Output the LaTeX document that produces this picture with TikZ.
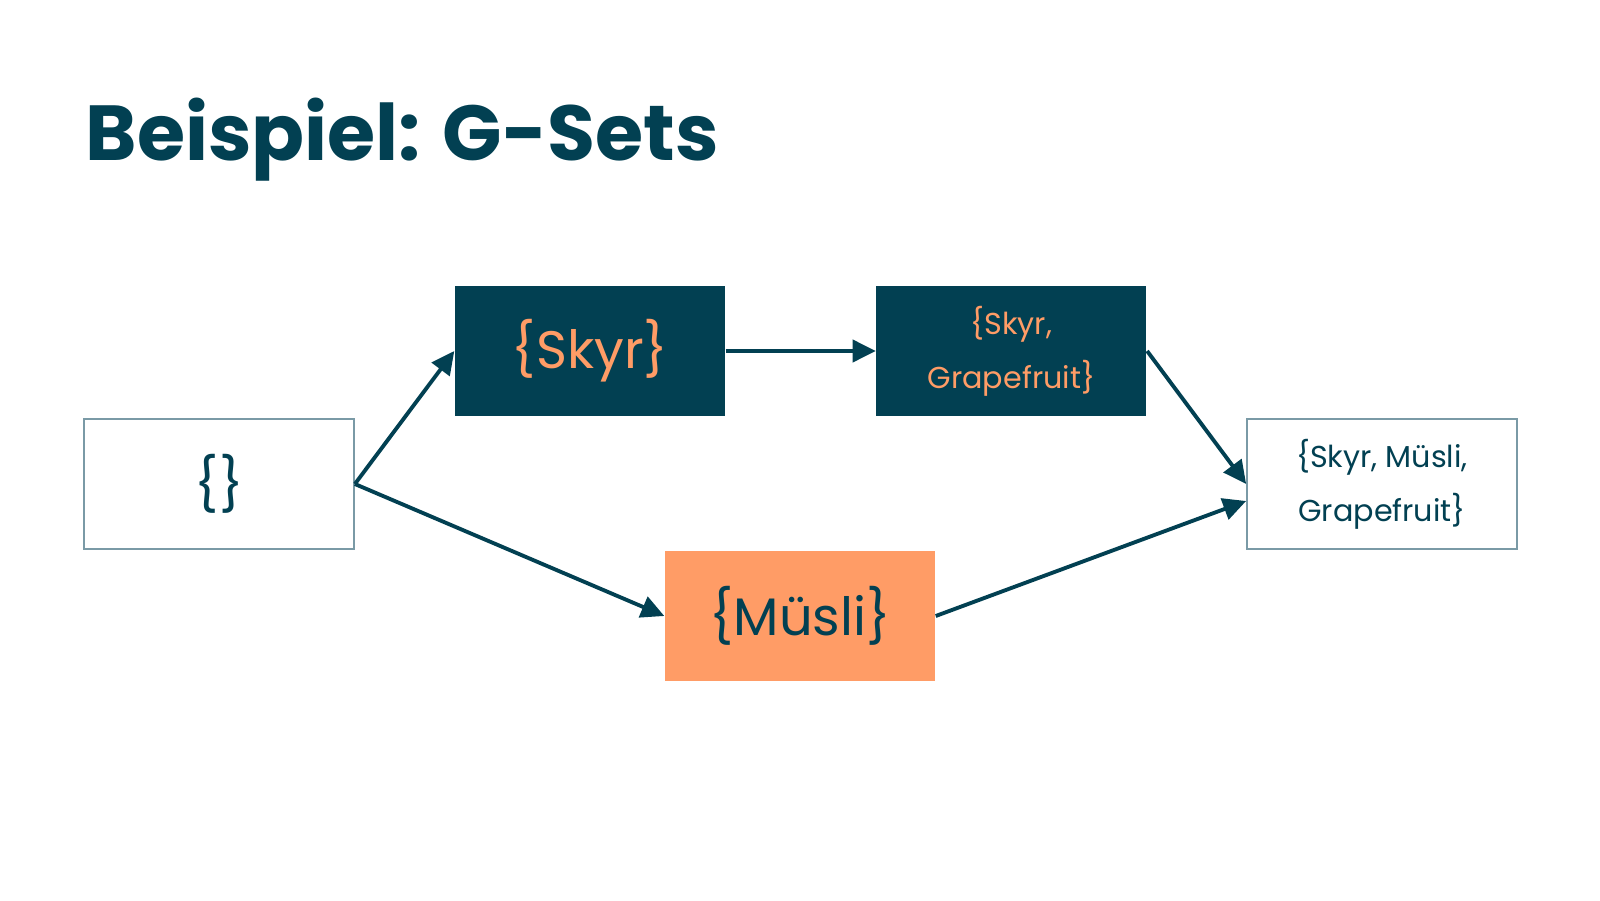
\documentclass[tikz,border=0pt]{standalone}
\usepackage{fontspec}
\setmainfont{Poppins}
\usepackage{tikz}
\usetikzlibrary{positioning, arrows.meta, calc}

\definecolor{teal}{RGB}{2,64,82}
\definecolor{peach}{RGB}{255,156,102}
\definecolor{rim}{RGB}{122,154,166}

\tikzset{
  setbox/.style={minimum width=2.7cm, minimum height=1.3cm, inner sep=0pt, align=center},
  dark/.style={setbox, fill=teal, text=peach},
  light/.style={setbox, draw=rim, line width=0.5pt, fill=white, text=teal},
  warm/.style={setbox, fill=peach, text=teal},
  arr/.style={draw=teal, line width=1.1pt, -{Triangle[length=2.3mm,width=2.2mm]}}
}

\begin{document}
\begin{tikzpicture}
\useasboundingbox (0,0) rectangle (16,9);
\node[anchor=base west, text=teal, font=\fontsize{22.2}{27}\selectfont\bfseries, inner sep=0pt] (title) at (0.85,7.40) {Beispiel: G-Sets};

\node[light, font=\fontsize{15}{18}\selectfont] (empty) at (2.19,4.16) {\{\}};
\node[dark, font=\fontsize{15}{18}\selectfont] (skyr) at (5.90,5.49) {\{Skyr\}};
\node[dark, right=1.5cm of skyr, font=\fontsize{8.6}{15.4}\selectfont] (grape) {\{Skyr,\\Grapefruit\}};
\node[warm, font=\fontsize{15}{18}\selectfont] (muesli) at (8.00,2.84) {\{Müsli\}};
\node[light, font=\fontsize{8.6}{15.4}\selectfont] (all) at (13.82,4.16) {\{Skyr, Müsli,\\Grapefruit\}};

\coordinate (inA) at (all.west);
\coordinate (inB) at ($(all.west)+(0,-0.17)$);

\draw[arr] (empty.east) -- (skyr.west);
\draw[arr] (empty.east) -- (muesli.west);
\draw[arr] (skyr.east) -- (grape.west);
\draw[arr] (grape.east) -- (inA);
\draw[arr] (muesli.east) -- (inB);
\end{tikzpicture}
\end{document}
